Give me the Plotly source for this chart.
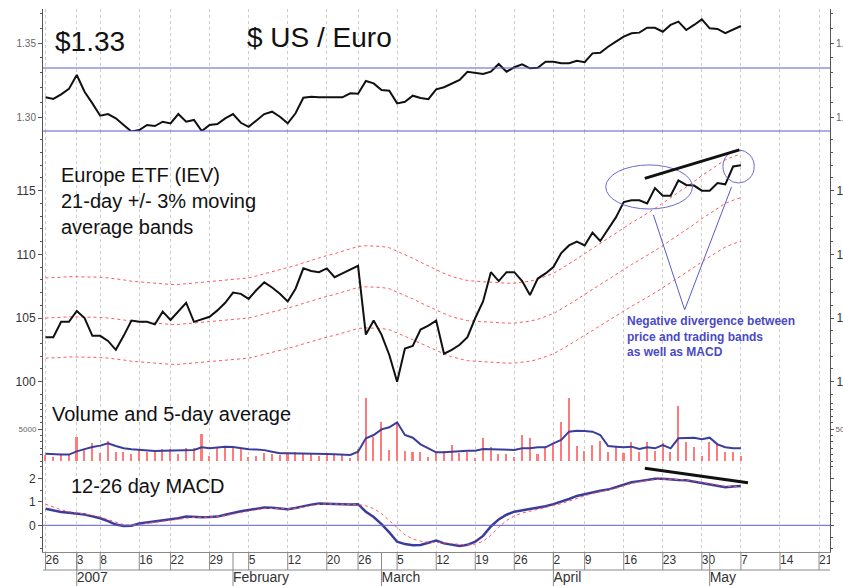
import plotly.graph_objects as go

# ---------------- data ----------------
# x = trading-day index, 0 = 26 Dec 2006
day = list(range(90))

usd = [1.3133, 1.3122, 1.3153, 1.3190, 1.3284, 1.3171, 1.3092, 1.3009, 1.3020, 1.2991,
       1.2946, 1.2902, 1.2912, 1.2946, 1.2939, 1.2968, 1.2957, 1.3020, 1.2968, 1.2980,
       1.2905, 1.2946, 1.2952, 1.2991, 1.3020, 1.2961, 1.2934, 1.2975, 1.3020, 1.3036,
       1.3002, 1.2957, 1.3025, 1.3130, 1.3137, 1.3133, 1.3133, 1.3128, 1.3133, 1.3160,
       1.3157, 1.3243, 1.3227, 1.3182, 1.3177, 1.3092, 1.3103, 1.3144, 1.3128, 1.3120,
       1.3187, 1.3201, 1.3223, 1.3250, 1.3306, 1.3299, 1.3290, 1.3306, 1.3358, 1.3306,
       1.3336, 1.3356, 1.3329, 1.3333, 1.3374, 1.3374, 1.3363, 1.3363, 1.3380, 1.3370,
       1.3430, 1.3434, 1.3475, 1.3509, 1.3543, 1.3566, 1.3570, 1.3603, 1.3603, 1.3576,
       1.3622, 1.3644, 1.3588, 1.3622, 1.3660, 1.3599, 1.3595, 1.3566, 1.3588, 1.3615]

etf = [103.5, 103.5, 104.7, 104.7, 105.55, 105.0, 103.6, 103.6, 103.2, 102.5,
       103.6, 104.8, 104.7, 104.7, 104.5, 105.5, 104.85, 105.5, 106.2, 104.7,
       104.9, 105.1, 105.6, 106.2, 107.0, 106.9, 106.5, 107.2, 107.8, 107.4,
       106.9, 106.3, 107.3, 108.9, 108.7, 108.6, 108.9, 108.2, 108.5, 108.8,
       109.1, 103.7, 104.8, 103.7, 102.1, 100.0, 102.6, 102.8, 104.1, 104.4,
       104.8, 102.2, 102.5, 102.9, 103.5, 105.0, 106.3, 108.6, 107.9, 108.6,
       108.6, 107.9, 106.8, 108.1, 108.5, 109.0, 110.1, 110.7, 111.0, 110.7,
       111.7, 111.05, 112.0, 112.9, 114.1, 114.25, 114.25, 114.0, 115.2, 114.6,
       114.6, 115.8, 115.45, 115.4, 115.0, 115.0, 115.6, 115.5, 116.9, 117.0]

ma21 = [105.0, 105.0, 105.05, 105.1, 105.1, 105.1, 105.1, 105.05, 105.0, 104.95,
        104.85, 104.75, 104.7, 104.6, 104.55, 104.5, 104.5, 104.5, 104.55, 104.6,
        104.7, 104.75, 104.8, 104.85, 104.9, 104.95, 105.0, 105.15, 105.3, 105.45,
        105.6, 105.75, 105.95, 106.15, 106.35, 106.55, 106.7, 106.85, 107.05, 107.25,
        107.4, 107.45, 107.45, 107.4, 107.3, 107.05, 106.8, 106.5, 106.2, 105.9,
        105.6, 105.35, 105.1, 104.95, 104.8, 104.75, 104.7, 104.65, 104.6, 104.6,
        104.6, 104.65, 104.75, 104.9, 105.1, 105.35, 105.7, 106.05, 106.45, 106.85,
        107.25, 107.65, 108.0, 108.4, 108.8, 109.2, 109.55, 109.9, 110.3, 110.7,
        111.1, 111.5, 111.9, 112.35, 112.8, 113.2, 113.6, 114.0, 114.25, 114.45]
band_pct = 3.0

vol = [940, 670, 940, 940, 3800, 1720, 2760, 1300, 3180, 1460,
       1460, 1040, 1820, 1460, 1460, 1820, 1820, 1040, 1980, 1980,
       4170, 830, 2080, 2240, 2240, 1820, 670, 780, 1200, 1040,
       940, 1040, 1460, 1200, 1200, 830, 940, 940, 940, 420,
       1820, 9800, 3800, 6040, 1720, 6150, 1560, 1460, 1400, 600,
       1460, 1560, 2500, 1300, 1460, 420, 3540, 2240, 1040, 1040,
       670, 4060, 3540, 1040, 2140, 2600, 6150, 9800, 2340, 1560,
       2500, 3180, 1350, 2140, 1200, 2920, 1350, 2920, 1560, 2760,
       1350, 8650, 2920, 2240, 830, 3020, 2760, 1350, 1460, 830]

vol_avg = [1150, 1050, 1000, 1000, 1500, 1850, 2200, 2400, 2750, 2350,
           2000, 1850, 1750, 1600, 1580, 1600, 1620, 1650, 1700, 1720,
           2140, 1980, 2100, 2240, 2200, 2000, 1850, 1780, 1700, 1450,
           1220, 1200, 1200, 1200, 1200, 1150, 1100, 1050, 1000, 940,
           1460, 3540, 4060, 4950, 5260, 6040, 4060, 3640, 2600, 1980,
           1350, 1350, 1460, 1560, 1620, 1620, 1870, 1820, 1820, 1720,
           1720, 1980, 1980, 2140, 2140, 2760, 3280, 4580, 4740, 4690,
           4580, 4060, 2340, 2240, 2140, 2240, 1870, 2140, 1980, 2500,
           1980, 3540, 3540, 3640, 3390, 3640, 2600, 2140, 1980, 1980]

macd = [0.70, 0.62, 0.57, 0.53, 0.50, 0.46, 0.38, 0.30, 0.18, 0.03,
        -0.03, -0.02, 0.08, 0.12, 0.15, 0.20, 0.25, 0.30, 0.37, 0.35,
        0.34, 0.35, 0.37, 0.45, 0.54, 0.60, 0.65, 0.70, 0.76, 0.75,
        0.70, 0.68, 0.74, 0.82, 0.88, 0.93, 0.92, 0.89, 0.89, 0.89,
        0.90, 0.58, 0.35, 0.05, -0.30, -0.70, -0.80, -0.85, -0.84, -0.75,
        -0.65, -0.77, -0.84, -0.88, -0.83, -0.70, -0.45, -0.05, 0.25, 0.45,
        0.58, 0.63, 0.68, 0.74, 0.81, 0.90, 1.00, 1.12, 1.25, 1.33,
        1.42, 1.47, 1.52, 1.63, 1.75, 1.83, 1.88, 1.93, 1.98, 1.98,
        1.94, 1.93, 1.92, 1.86, 1.79, 1.74, 1.68, 1.62, 1.65, 1.67]

signal = [0.90, 0.78, 0.66, 0.58, 0.53, 0.49, 0.43, 0.35, 0.25, 0.12,
          0.03, 0.00, 0.03, 0.08, 0.12, 0.17, 0.22, 0.27, 0.32, 0.34,
          0.34, 0.34, 0.36, 0.41, 0.48, 0.55, 0.61, 0.66, 0.71, 0.73,
          0.72, 0.70, 0.72, 0.78, 0.84, 0.89, 0.91, 0.90, 0.89, 0.89,
          0.89, 0.83, 0.71, 0.50, 0.20, -0.12, -0.40, -0.58, -0.68, -0.72,
          -0.72, -0.74, -0.78, -0.82, -0.84, -0.80, -0.68, -0.42, -0.08, 0.20,
          0.40, 0.52, 0.60, 0.67, 0.74, 0.82, 0.92, 1.03, 1.15, 1.25,
          1.35, 1.42, 1.48, 1.57, 1.68, 1.78, 1.84, 1.90, 1.95, 1.97,
          1.96, 1.94, 1.93, 1.89, 1.83, 1.77, 1.72, 1.66, 1.65, 1.66]

week_idx = [0, 4, 7, 12, 16, 21, 26, 31, 36, 40, 45, 50, 55, 60, 65, 69, 74, 79, 84, 89, 94, 99]
week_labels = ["26", "3", "8", "16", "22", "29", "5", "12", "20", "26", "5",
               "12", "19", "26", "2", "9", "16", "23", "30", "7", "14", "21"]
month_idx = [4, 24, 43, 65, 85]
month_labels = ["2007", "February", "March", "April", "May"]

usd_ticks = [1.30, 1.35]
etf_ticks = [100, 105, 110, 115]
vol_ticks = [5000]
macd_ticks = [0, 1, 2]

usd_level = 1.3331

# annotation geometry (data coordinates)
etf_trend = [(76.7, 115.97), (88.8, 118.2)]
macd_trend = [(76.7, 2.43), (89.9, 1.81)]
ellipse_a = (71.7, 113.56, 82.8, 117.02)
ellipse_b = (86.7, 115.6, 90.7, 118.2)
pointer = [(77.8, 113.1), (81.8, 105.65), (87.8, 115.3)]

# ---------------- derived ----------------
upper = [m * (1 + band_pct / 100) for m in ma21]
lower = [m * (1 - band_pct / 100) for m in ma21]

# ---------------- layout geometry ----------------
W, H = 843, 586
ML, MR, MT, MB = 43, 13, 9, 0
PW, PH = W - ML - MR, H - MT - MB


def yp(p):
    return (H - MB - p) / PH


def xp(p):
    return (p - ML) / PW


usd_dom = [yp(131), 1.0]
etf_dom = [yp(398), yp(131)]
vol_dom = [yp(461), yp(398)]
macd_dom = [yp(552), yp(461)]
strip_dom = [0.0, yp(552)]
XR = [-0.32, 100.4]

FONT = "Liberation Sans, Arial, sans-serif"
AXC = "#555555"
BLUE = "#5a5ad0"
NAVY = "#3b3d9c"
RED = "#ff5a5a"

fig = go.Figure()

# USD / Euro
fig.add_trace(go.Scatter(x=day, y=usd, xaxis="x", yaxis="y", mode="lines",
                         line=dict(color="#111111", width=2)))
# ETF bands and price
for band in (upper, ma21, lower):
    fig.add_trace(go.Scatter(x=day, y=band, xaxis="x2", yaxis="y2", mode="lines",
                             line=dict(color=RED, width=1, dash="dot")))
fig.add_trace(go.Scatter(x=day, y=etf, xaxis="x2", yaxis="y2", mode="lines",
                         line=dict(color="#111111", width=2)))
# Volume
fig.add_trace(go.Bar(x=day, y=vol, xaxis="x3", yaxis="y3", width=0.2,
                     marker=dict(color="#ff7a7a", line=dict(width=0))))
fig.add_trace(go.Scatter(x=day, y=vol_avg, xaxis="x3", yaxis="y3", mode="lines",
                         line=dict(color=NAVY, width=2)))
# MACD
fig.add_trace(go.Scatter(x=day, y=macd, xaxis="x4", yaxis="y4", mode="lines",
                         line=dict(color=NAVY, width=2.5)))
fig.add_trace(go.Scatter(x=day, y=signal, xaxis="x4", yaxis="y4", mode="lines",
                         line=dict(color=RED, width=1, dash="dot")))
# date strip text
fig.add_trace(go.Scatter(x=week_idx, y=[25] * len(week_idx), xaxis="x5", yaxis="y5",
                         mode="text", text=week_labels, textposition="middle right",
                         textfont=dict(family=FONT, size=12, color="#333333")))
fig.add_trace(go.Scatter(x=month_idx, y=[8] * len(month_idx), xaxis="x5", yaxis="y5",
                         mode="text", text=month_labels, textposition="middle right",
                         textfont=dict(family=FONT, size=14, color="#333333")))
# invisible carriers for right-hand axes
for yname, series in (("y6", usd), ("y7", etf), ("y8", vol), ("y9", macd)):
    fig.add_trace(go.Scatter(x=day, y=series, xaxis="x", yaxis=yname, mode="lines",
                             opacity=0, line=dict(width=0)))

xbase = dict(range=XR, domain=[0, 1], tickvals=week_idx, showticklabels=False, ticks="",
             showgrid=True, gridcolor="#cccccc", griddash="3px,3px", gridwidth=1,
             zeroline=False, showline=False, automargin=False)


def yax(dom, rng, side="left", **kw):
    d = dict(domain=dom, range=rng, side=side, ticks="outside", ticklen=4, tickcolor=AXC,
             showline=True, linecolor=AXC, linewidth=1, showgrid=False, zeroline=False,
             automargin=False, tickfont=dict(family=FONT, size=12, color="#333333"))
    d.update(kw)
    return d


usd_rng = [1.29054, 1.37297]
etf_rng = [98.72, 119.686]
vol_rng = [0, 9844]
macd_rng = [-1.136, 2.736]

usd_kw = dict(tickvals=usd_ticks, tickformat=".2f",
              tickfont=dict(family=FONT, size=10, color="#666666"),
              minor=dict(ticks="outside", ticklen=2, tick0=1.30, dtick=0.01, tickcolor=AXC))
etf_kw = dict(tickvals=etf_ticks,
              minor=dict(ticks="outside", ticklen=2, tick0=100, dtick=1, tickcolor=AXC))
vol_kw = dict(tickvals=vol_ticks, tickfont=dict(family=FONT, size=8, color="#666666"),
              minor=dict(ticks="outside", ticklen=2, tick0=0, dtick=1000, tickcolor=AXC))
macd_kw = dict(tickvals=macd_ticks,
               minor=dict(ticks="outside", ticklen=2, tick0=0, dtick=0.5, tickcolor=AXC))

fig.update_layout(
    width=W, height=H, margin=dict(l=ML, r=MR, t=MT, b=MB, pad=0),
    paper_bgcolor="white", plot_bgcolor="white", showlegend=False,
    hovermode=False, bargap=0, template="none",
    font=dict(family=FONT, color="#222222"),
    xaxis=dict(xbase, anchor="y"),
    xaxis2=dict(xbase, anchor="y2", matches="x"),
    xaxis3=dict(xbase, anchor="y3", matches="x", showline=True, linecolor="#888888"),
    xaxis4=dict(xbase, anchor="y4", matches="x", showline=True, linecolor="#888888"),
    xaxis5=dict(range=XR, domain=[0, 1], anchor="y5", matches="x", visible=False),
    yaxis=yax(usd_dom, usd_rng, anchor="x", **usd_kw),
    yaxis2=yax(etf_dom, etf_rng, anchor="x2", **etf_kw),
    yaxis3=yax(vol_dom, vol_rng, anchor="x3", **vol_kw),
    yaxis4=yax(macd_dom, macd_rng, anchor="x4", **macd_kw),
    yaxis5=dict(domain=strip_dom, range=[0, 34], anchor="x5", visible=False),
    yaxis6=yax(usd_dom, usd_rng, side="right", overlaying="y", anchor="x", ticklen=3, **usd_kw),
    yaxis7=yax(etf_dom, etf_rng, side="right", overlaying="y2", anchor="x", ticklen=3, **etf_kw),
    yaxis8=yax(vol_dom, vol_rng, side="right", overlaying="y3", anchor="x", ticklen=3, **vol_kw),
    yaxis9=yax(macd_dom, macd_rng, side="right", overlaying="y4", anchor="x", ticklen=3,
               showticklabels=False, **macd_kw),
)

shapes = []
# horizontal blue reference lines
shapes.append(dict(type="line", xref="x domain", yref="y", x0=0, x1=1, y0=usd_level, y1=usd_level,
                   line=dict(color=BLUE, width=1)))
shapes.append(dict(type="line", xref="x domain", yref="y domain", x0=0, x1=1, y0=0, y1=0,
                   line=dict(color=BLUE, width=1.2)))
shapes.append(dict(type="line", xref="x4 domain", yref="y4", x0=0, x1=1, y0=0, y1=0,
                   line=dict(color=BLUE, width=1)))
# divergence markup
shapes.append(dict(type="circle", xref="x2", yref="y2", x0=ellipse_a[0], y0=ellipse_a[1],
                   x1=ellipse_a[2], y1=ellipse_a[3], line=dict(color="#6a6ad0", width=1)))
shapes.append(dict(type="circle", xref="x2", yref="y2", x0=ellipse_b[0], y0=ellipse_b[1],
                   x1=ellipse_b[2], y1=ellipse_b[3], line=dict(color="#6a6ad0", width=1)))
path = "M {} {} L {} {} L {} {}".format(*[c for pt in pointer for c in pt])
shapes.append(dict(type="path", xref="x2", yref="y2", path=path,
                   line=dict(color="#5a5ac8", width=1)))
shapes.append(dict(type="line", xref="x2", yref="y2", x0=etf_trend[0][0], y0=etf_trend[0][1],
                   x1=etf_trend[1][0], y1=etf_trend[1][1], line=dict(color="#111111", width=3)))
shapes.append(dict(type="line", xref="x4", yref="y4", x0=macd_trend[0][0], y0=macd_trend[0][1],
                   x1=macd_trend[1][0], y1=macd_trend[1][1], line=dict(color="#111111", width=3)))
# date strip boxes
GRID = "#8a8a8a"
shapes.append(dict(type="line", xref="x5 domain", yref="y5", x0=0, x1=1, y0=16, y1=16,
                   line=dict(color=GRID, width=1)))
for wi in week_idx:
    shapes.append(dict(type="line", xref="x5", yref="y5", x0=wi, x1=wi, y0=16, y1=34,
                       line=dict(color=GRID, width=1)))
for mi in month_idx:
    shapes.append(dict(type="line", xref="x5", yref="y5", x0=mi, x1=mi, y0=0, y1=34,
                       line=dict(color=GRID, width=1)))
fig.update_layout(shapes=shapes)

ann = []


def note(text, x, y, size, color="#111111", bold=False):
    if bold:
        text = "<b>" + text.replace("<br>", "</b><br><b>") + "</b>"
    ann.append(dict(text=text, xref="paper", yref="paper", x=xp(x), y=yp(y), xanchor="left",
                    yanchor="middle", align="left", showarrow=False,
                    font=dict(family=FONT, size=size, color=color)))


note("$1.33", 53, 42, 28)
note("$ US / Euro", 245, 37, 28)
note("Europe ETF (IEV)<br>21-day +/- 3% moving<br>average bands", 59, 201, 20)
note("Volume and 5-day average", 50, 414, 20)
note("12-26 day MACD", 69, 486, 20)
note("Negative divergence between<br>price and trading bands<br>as well as MACD", 625, 336, 12,
     color="#4a4ac4", bold=True)
fig.update_layout(annotations=ann)

fig.write_html("out.html", config={"displayModeBar": False},
               post_script="document.body.style.margin='0';document.body.style.overflow='hidden';")
